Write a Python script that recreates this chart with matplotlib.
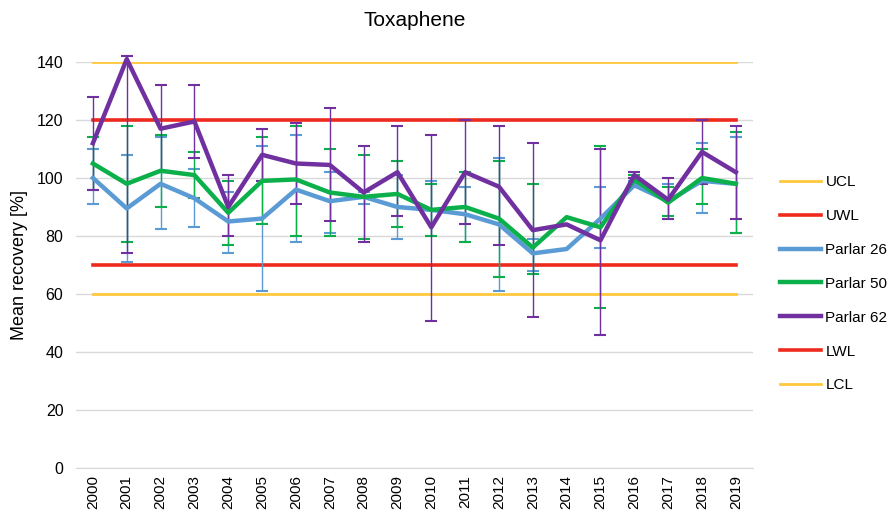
import matplotlib.pyplot as plt
import numpy as np

plt.rcParams["font.family"] = ["Liberation Sans", "DejaVu Sans"]

years = [str(y) for y in range(2000, 2020)]

ucl = 140
uwl = 120
lwl = 70
lcl = 60

p26 = [100, 89.5, 98, 93, 85, 86, 96, 92, 93.5, 90, 89, 87.5, 84, 74, 75.5, 86, 97.5, 92, 99, 98]
p26_lo = [91, 71, 82.5, 83, 74, 61, 78, 81, 91, 79, 80, 78, 61, 68, None, 76, 97, 86, 88, 81]
p26_hi = [110, 108, 114, 103, 95, 111, 115, 102, 95, 101, 99, 97, 107, 79, None, 97, 99, 98, 112, 114]

p50 = [105, 98, 102.5, 101, 88, 99, 99.5, 95, 93.5, 94.5, 89, 90, 86, 76, 86.5, 83, 99.5, 91.5, 100, 98]
p50_lo = [96, 78, 90, 93, 77, 84, 80, 80, 79, 83, 80, 78, 66, 67, None, 55, 98, 87, 91, 81]
p50_hi = [114, 118, 115, 109, 99, 114, 118, 110, 108, 106, 98, 102, 106, 98, None, 111, 101, 97, 110, 116]

p62 = [112, 141, 117, 119.5, 90, 108, 105, 104.5, 95, 102, 83, 102, 97, 82, 84, 78.5, 101, 92.5, 109, 102]
p62_lo = [96, 74, 102, 107, 80, 99, 91, 85, 78, 87, 50.5, 84, 77, 52, None, 46, 100, 86, 98, 86]
p62_hi = [128, 142, 132, 132, 101, 117, 119, 124, 111, 118, 115, 120, 118, 112, None, 110, 102, 100, 120, 118]

fig = plt.figure(figsize=(8.94, 5.17), dpi=100)
ax = fig.add_axes([0.085, 0.095, 0.757, 0.785])

x = np.arange(len(years))
yellow = "#FFC83D"
red = "#EE2A1E"
blue = "#5B9BD5"
green = "#0BB04A"
purple = "#7030A0"

ax.plot(x, [ucl] * len(x), color=yellow, lw=2.0, label="UCL", zorder=2)
ax.plot(x, [uwl] * len(x), color=red, lw=2.6, label="UWL", zorder=2)


def draw(vals, lo, hi, color, label):
    ax.plot(x, vals, color=color, lw=3.2, label=label, zorder=4, clip_on=False)
    idx = [i for i in range(len(vals)) if lo[i] is not None]
    v = np.array([vals[i] for i in idx])
    l = np.array([lo[i] for i in idx])
    h = np.array([hi[i] for i in idx])
    ax.errorbar(np.array(idx), v, yerr=[v - l, h - v], fmt="none", ecolor=color,
                elinewidth=1.0, capsize=4, capthick=1.5, zorder=3, clip_on=False)


draw(p26, p26_lo, p26_hi, blue, "Parlar 26")
draw(p50, p50_lo, p50_hi, green, "Parlar 50")
draw(p62, p62_lo, p62_hi, purple, "Parlar 62")

ax.plot(x, [lwl] * len(x), color=red, lw=2.6, label="LWL", zorder=2)
ax.plot(x, [lcl] * len(x), color=yellow, lw=2.0, label="LCL", zorder=2)

ax.set_xlim(-0.5, len(x) - 0.5)
ax.set_ylim(0, 140)
ax.set_yticks(range(0, 141, 20))
ax.set_xticks(x)
ax.set_xticklabels(years, rotation=90, fontsize=11)
ax.tick_params(axis="y", labelsize=11.5, length=0, pad=9)
ax.tick_params(axis="x", length=0, pad=5)
ax.grid(axis="y", color="#D9D9D9", lw=1)
ax.set_axisbelow(True)
for s in ["top", "right", "left"]:
    ax.spines[s].set_visible(False)
ax.spines["bottom"].set_color("#D9D9D9")

ax.set_ylabel("Mean recovery [%]", fontsize=13, labelpad=6)
ax.set_title("Toxaphene", fontsize=15, pad=26)

ax.legend(loc="center left", bbox_to_anchor=(0.872, 0.451), bbox_transform=fig.transFigure,
          frameon=False, fontsize=11, borderpad=0, borderaxespad=0,
          handlelength=2.7, handletextpad=0.3, labelspacing=1.3)

fig.savefig("out.png", dpi=100)
